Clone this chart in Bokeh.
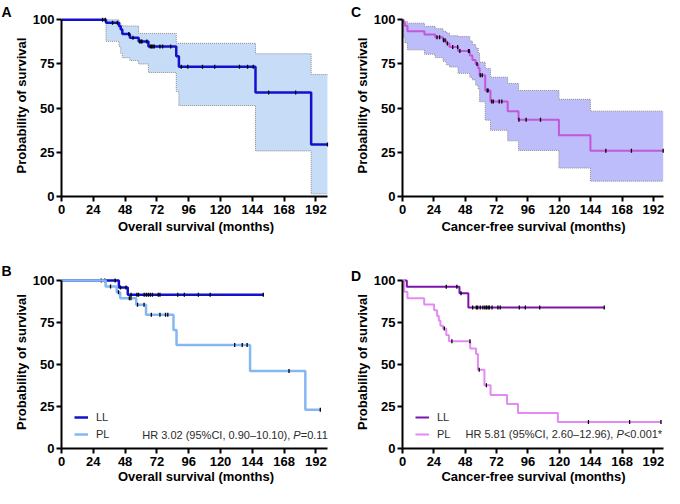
import numpy as np
from bokeh.plotting import figure
from bokeh.layouts import column, row
from bokeh.models import Label, Legend, LegendItem, FixedTicker
from bokeh.embed import file_html
from bokeh.resources import INLINE

# ---------------- data ----------------
x_ticks = [0, 24, 48, 72, 96, 120, 144, 168, 192]
y_ticks = [0, 25, 50, 75, 100]

# Panel A: overall survival, all patients (with 95% CI band)
a_time = [0, 33.6, 43.4, 44.7, 45.9, 51.6, 58.2, 65.6, 86.6, 88.6, 146.4, 188.4, 200.7]
a_surv = [100, 98.3, 96.3, 94.5, 92.0, 89.9, 87.7, 84.9, 79.4, 73.4, 58.8, 29.4, 29.4]
a_upper = [100, 100, 98.5, 97.0, 96.5, 96.5, 92.3, 92.3, 86.7, 86.7, 80.8, 69.0, 69.0]
a_lower = [100, 87.8, 85.0, 81.0, 78.5, 77.0, 75.0, 70.2, 59.5, 51.5, 25.8, 1.5, 1.5]
a_censor = [31, 33, 38.5, 42.2, 50.8, 54, 59, 60, 60.7, 64.4, 67, 68, 69, 70, 74.3, 76.3,
            82.4, 90.4, 95.3, 106.4, 115.6, 134.3, 140.4, 144.7, 156.3, 176.7, 200.7]

# Panel C: cancer-free survival, all patients (with 95% CI band)
c_time = [0, 0.8, 1.8, 3.8, 16.8, 25, 31, 33.5, 36, 42.5, 51.5, 53.5, 56, 58, 59, 63.3,
          67.3, 80.5, 88.8, 119.7, 143.8, 199.5]
c_surv = [100, 98.3, 96.6, 93.5, 91.7, 90.1, 88.4, 86.6, 84.6, 82.3, 79.8, 77.3, 75.0,
          72.6, 68.6, 60.0, 53.7, 48.3, 43.5, 34.6, 25.9, 25.9]
c_upper = [100, 99.5, 99.0, 98.1, 96.3, 95.0, 93.5, 92.5, 91.0, 90.5, 88.0, 86.0, 84.0,
           81.0, 76.0, 72.5, 67.5, 64.0, 60.0, 55.0, 48.3, 48.3]
c_lower = [100, 90.0, 87.0, 83.0, 80.5, 78.6, 76.5, 74.5, 73.3, 69.7, 67.5, 66.0, 63.0,
           60.8, 53.6, 43.2, 37.5, 31.5, 26.1, 16.1, 8.7, 8.7]
c_censor = [26.4, 28.4, 31.4, 32.6, 34.4, 38.4, 42.2, 43.9, 50.5, 51.0, 57.0, 59.5, 61,
            64.8, 65.5, 68.3, 69.5, 74, 76, 89.1, 94.6, 105.6, 155.6, 175.2, 199.5]

# Panel B: overall survival by group
b_ll_time = [0, 43.3, 50, 152.3]
b_ll_surv = [100, 95.8, 91.6, 91.6]
b_ll_censor = [30, 32.6, 40.5, 44.5, 48.7, 52.5, 56.9, 58.1, 62.4, 64, 65.5, 67, 68.6,
               73, 74.3, 87.7, 92.7, 103.3, 112.2, 152.3]
b_pl_time = [0, 33.3, 41.7, 44.3, 56.4, 63.8, 84.5, 86.8, 142.3, 184, 195.3]
b_pl_surv = [100, 96.4, 93.0, 89.4, 85.6, 79.6, 70.5, 61.6, 46.2, 23.1, 23.1]
b_pl_censor = [37, 43.0, 51.2, 52.4, 57.4, 62.3, 67.8, 74.3, 78.5, 80.2, 130.7, 136.4,
               140.1, 171.7, 195.3]
b_stats = ["HR 3.02 (95%CI, 0.90\u201310.10),", "P", "=0.11"]

# Panel D: cancer-free survival by group
d_ll_time = [0, 3.3, 43.6, 50.4, 154.4]
d_ll_surv = [100, 96.3, 92.5, 83.9, 83.9]
d_ll_censor = [33.5, 41.6, 44.8, 53.7, 56.5, 57.5, 59.5, 61.5, 63, 64.2, 65.5, 66.5, 68.5,
               73, 74.8, 89.4, 94, 105, 154.4]
d_pl_time = [0, 1.3, 3.8, 16.6, 24.2, 26.5, 27.8, 29, 31, 33.5, 35.5, 51.8, 56.3, 57.7,
             62.7, 67.4, 80, 88.4, 118.9, 197.8]
d_pl_surv = [100, 93.3, 89.5, 85.7, 82.3, 78.9, 76.0, 73.1, 71.4, 67.6, 63.9, 59.6, 56.2,
             46.9, 37.6, 31.9, 26.5, 21.1, 15.8, 15.8]
d_pl_censor = [32, 37.8, 51.6, 58.7, 64.2, 142.3, 173.8, 197.8]
d_stats = ["HR 5.81 (95%CI, 2.60\u201312.96),", "P", "<0.001*"]

group_labels = ["LL", "PL"]

# ---------------- styling ----------------
FONT = "Liberation Sans"
A_LINE = "#1212cc"
A_BAND = "#c7dcf6"
C_LINE = "#c456d8"
C_BAND = "#bcbdfa"
LL_BLUE = "#1212cc"
PL_BLUE = "#85b8f3"
LL_PURPLE = "#7b14a8"
PL_PURPLE = "#e38af3"
BAND_EDGE = "#8c8c8c"


def level_at(times, surv, pts):
    t = np.asarray(times, dtype=float)
    s = np.asarray(surv, dtype=float)
    idx = np.searchsorted(t, np.asarray(pts, dtype=float), side="right") - 1
    idx = np.clip(idx, 0, len(s) - 1)
    return s[idx]


def make_fig(h, left, right, top, bottom, xmax, xbound, xlabel, title_standoff):
    p = figure(width=332, height=h, x_range=(0, xmax), y_range=(0, 103),
               output_backend="svg", toolbar_location=None,
               min_border_left=left, min_border_right=right,
               min_border_top=top, min_border_bottom=bottom)
    p.outline_line_color = None
    p.xgrid.visible = False
    p.ygrid.visible = False
    for ax in (p.xaxis[0], p.yaxis[0]):
        ax.axis_line_width = 2
        ax.axis_line_color = "black"
        ax.major_tick_line_width = 2
        ax.major_tick_line_color = "black"
        ax.major_tick_out = 5
        ax.major_tick_in = 0
        ax.minor_tick_line_color = None
        ax.major_label_text_font = FONT
        ax.major_label_text_font_style = "bold"
        ax.major_label_text_font_size = "13px"
        ax.major_label_text_color = "black"
        ax.axis_label_text_font = FONT
        ax.axis_label_text_font_style = "bold"
        ax.axis_label_text_font_size = "13px"
        ax.axis_label_text_color = "black"
    p.xaxis.ticker = FixedTicker(ticks=x_ticks)
    p.yaxis.ticker = FixedTicker(ticks=y_ticks)
    p.xaxis.bounds = (0, xbound)
    p.yaxis.bounds = (0, 100)
    p.xaxis.axis_label = xlabel
    p.yaxis.axis_label = "Probability of survival"
    p.xaxis.major_label_standoff = 3
    p.xaxis.axis_label_standoff = title_standoff
    p.yaxis.major_label_standoff = 2
    p.yaxis.axis_label_standoff = 1
    return p


def add_band(p, t, lo, hi, color):
    p.varea_step(x=t, y1=lo, y2=hi, step_mode="after", fill_color=color, fill_alpha=1.0)
    p.step(t, hi, mode="after", line_color=BAND_EDGE, line_width=1, line_dash="1 1")
    p.step(t, lo, mode="after", line_color=BAND_EDGE, line_width=1, line_dash="1 1")


def add_curve(p, t, s, censor, color, width):
    r = p.step(t, s, mode="after", line_color=color, line_width=width)
    cy = level_at(t, s, censor)
    p.scatter(censor, cy, marker="dash", angle=np.pi / 2, size=4,
              line_color="black", line_width=1.3)
    return r


def add_letter(p, letter, x, y):
    # placed in the left side panel so that it is not clipped to the frame
    p.add_layout(Label(x=x, y=y, x_units="screen", y_units="screen", text=letter,
                       text_font=FONT, text_font_style="bold", text_font_size="14px",
                       text_baseline="top", text_align="left", text_color="black"), "left")


def add_stats(p, parts, xdata, ysc):
    common = dict(y=ysc, y_units="screen", text_font=FONT, text_font_size="11px",
                  text_color="#2b2b2b", text_baseline="middle")
    p.add_layout(Label(x=xdata, x_offset=-3, text=parts[0], text_align="right", **common))
    p.add_layout(Label(x=xdata, text=parts[1], text_align="left",
                       text_font_style="italic", **common))
    p.add_layout(Label(x=xdata, x_offset=7.5, text=parts[2], text_align="left", **common))


def add_legend(p, r_ll, r_pl):
    leg = Legend(items=[LegendItem(label=group_labels[0], renderers=[r_ll]),
                        LegendItem(label=group_labels[1], renderers=[r_pl])],
                 location=(13, 7), padding=0, margin=0, spacing=3,
                 glyph_width=14, glyph_height=14, label_height=14,
                 label_standoff=8, label_text_font=FONT, label_text_font_size="11px",
                 label_text_color="#2b2b2b", border_line_color=None,
                 background_fill_alpha=0)
    p.add_layout(leg)


# Panel A
pA = make_fig(238, 60, 2, 14, 42, 203, 201, "Overall survival (months)", 2)
add_band(pA, a_time, a_lower, a_upper, A_BAND)
add_curve(pA, a_time, a_surv, a_censor, A_LINE, 2.5)
add_letter(pA, "A", 1, 193)

# Panel C
pC = make_fig(238, 70, 0, 14, 42, 200.5, 200, "Cancer-free survival (months)", 2)
add_band(pC, c_time, c_lower, c_upper, C_BAND)
add_curve(pC, c_time, c_surv, c_censor, C_LINE, 2)
add_letter(pC, "C", 9.5, 193)

# Panel B
pB = make_fig(250, 60, 2, 37, 40, 203, 201, "Overall survival (months)", 0)
rb_ll = add_curve(pB, b_ll_time, b_ll_surv, b_ll_censor, LL_BLUE, 2.5)
rb_pl = add_curve(pB, b_pl_time, b_pl_surv, b_pl_censor, PL_BLUE, 2.5)
add_legend(pB, rb_ll, rb_pl)
add_stats(pB, b_stats, 174.9, 14)
add_letter(pB, "B", 1, 186)

# Panel D
pD = make_fig(250, 70, 0, 37, 40, 200.5, 200, "Cancer-free survival (months)", 0)
rd_ll = add_curve(pD, d_ll_time, d_ll_surv, d_ll_censor, LL_PURPLE, 2)
rd_pl = add_curve(pD, d_pl_time, d_pl_surv, d_pl_censor, PL_PURPLE, 2)
add_legend(pD, rd_ll, rd_pl)
add_stats(pD, d_stats, 163.7, 15)
add_letter(pD, "D", 9.5, 181)

layout = column(row(pA, pC), row(pB, pD))
open("out.html", "w").write(file_html(layout, INLINE))
